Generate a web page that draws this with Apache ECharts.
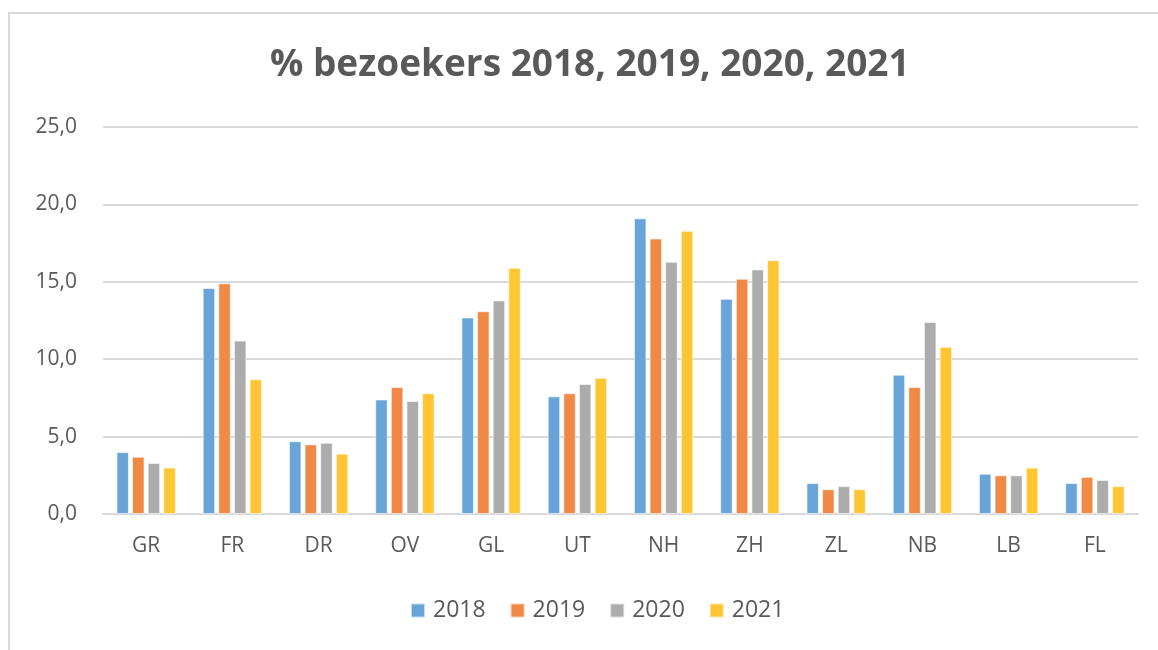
<!DOCTYPE html>
<html>
<head>
<meta charset="utf-8">
<script src="https://cdn.jsdelivr.net/npm/echarts@6/dist/echarts.min.js"></script>
<style>html,body{margin:0;padding:0;background:#fff}#c{width:1158px;height:650px}</style>
</head>
<body>
<div id="c"></div>
<script>
const categories = ['GR','FR','DR','OV','GL','UT','NH','ZH','ZL','NB','LB','FL'];
const years = ['2018','2019','2020','2021'];
const v2018 = [4.0, 14.6, 4.7, 7.4, 12.7, 7.6, 19.1, 13.9, 2.0, 9.0, 2.6, 2.0];
const v2019 = [3.7, 14.9, 4.5, 8.2, 13.1, 7.8, 17.8, 15.2, 1.6, 8.2, 2.5, 2.4];
const v2020 = [3.3, 11.2, 4.6, 7.3, 13.8, 8.4, 16.3, 15.8, 1.8, 12.4, 2.5, 2.2];
const v2021 = [3.0, 8.7, 3.9, 7.8, 15.9, 8.8, 18.3, 16.4, 1.6, 10.8, 3.0, 1.8];
const yTicks = [0, 5, 10, 15, 20, 25];
const colors = ['#69A4D9','#EF8945','#ACACAC','#FFC533'];
const allValues = [v2018, v2019, v2020, v2021];

const chart = echarts.init(document.getElementById('c'), null, {renderer:'canvas'});
const font = '"Open Sans", "Noto Sans", sans-serif';
chart.setOption({
  animation: false,
  backgroundColor: '#fff',
  title: {
    text: '% bezoekers 2018, 2019, 2020, 2021',
    left: 265, top: 42,
    textStyle: {fontFamily: font, fontSize: 37, fontWeight: 'bold', color: '#595959'}
  },
  legend: {
    bottom: 23, left: 405,
    itemWidth: 14, itemHeight: 14, itemGap: 24,
    icon: 'rect',
    textStyle: {fontFamily: font, fontSize: 23, color: '#595959', padding: [0,0,0,3]},
    data: years
  },
  graphic: [{
    type: 'rect', silent: true,
    shape: {x: 9, y: 13, width: 1200, height: 700},
    style: {fill: 'none', stroke: '#d9d9d9', lineWidth: 2}
  }],
  grid: {left: 103, right: 20, top: 127, bottom: 136},
  xAxis: {
    type: 'category', data: categories,
    axisLine: {lineStyle: {color: '#d9d9d9', width: 2}},
    axisTick: {show: false},
    axisLabel: {fontFamily: font, fontSize: 21, color: '#595959', margin: 22}
  },
  yAxis: {
    type: 'value', min: yTicks[0], max: yTicks[yTicks.length-1], interval: 5,
    axisLine: {show: false}, axisTick: {show: false},
    splitLine: {lineStyle: {color: '#d9d9d9', width: 2}},
    axisLabel: {fontFamily: font, fontSize: 21, color: '#595959', margin: 26,
      formatter: v => v.toFixed(1).replace('.', ',')}
  },
  series: years.map((y, i) => ({
    name: y, type: 'bar', data: allValues[i],
    barWidth: 12.5, barGap: '25%',
    itemStyle: {color: colors[i], borderColor: 'rgba(255,255,255,0.6)', borderWidth: 1}
  }))
});
</script>
</body>
</html>
